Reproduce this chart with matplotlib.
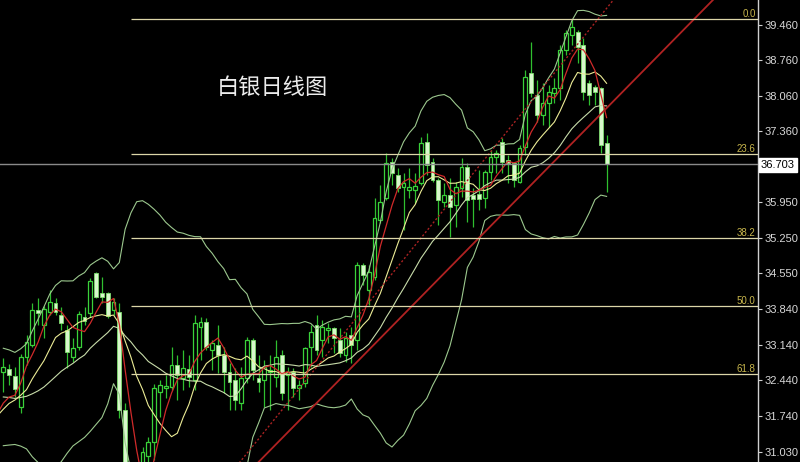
import matplotlib
matplotlib.use("Agg")
import matplotlib.pyplot as plt
import numpy as np
import pandas as pd

# silver daily candles, oldest first
opens = [32.61, 32.67, 32.53, 31.92, 32.90, 33.14, 33.83, 33.54, 33.79, 33.97,
         33.73, 33.44, 32.90, 33.10, 33.69, 33.77, 34.56, 34.17, 34.17, 33.83,
         33.79, 31.86, 29.60, 30.00, 29.95, 30.95, 31.23, 32.21, 32.29, 32.31,
         32.75, 32.49, 32.67, 32.45, 33.49, 33.59, 33.04, 33.14, 32.94, 32.61,
         32.45, 31.99, 32.49, 33.24, 32.49, 32.45, 32.61, 32.51, 32.94, 32.55,
         32.61, 32.29, 32.39, 33.10, 33.53, 33.24, 33.44, 33.48, 33.24, 32.94,
         33.34, 33.24, 34.72, 34.23, 34.48, 35.61, 36.04, 36.75, 36.49, 36.26,
         36.20, 36.20, 36.34, 37.14, 36.75, 36.40, 35.96, 36.10, 35.90, 36.24,
         36.65, 36.10, 36.12, 36.04, 36.55, 36.85, 37.14, 36.79, 36.73, 36.36,
         37.05, 38.50, 38.07, 37.68, 37.91, 38.11, 38.21, 38.96, 39.25, 39.31,
         39.06, 38.31, 38.23, 38.21, 37.12]
highs = [32.88, 32.77, 32.71, 32.96, 33.34, 33.97, 34.07, 33.91, 34.22, 34.07,
         33.89, 33.54, 33.28, 33.81, 33.89, 34.46, 34.58, 34.48, 34.19, 34.07,
         33.97, 32.00, 30.50, 30.55, 31.13, 31.33, 32.37, 32.45, 32.55, 33.10,
         32.94, 33.04, 32.94, 33.73, 33.69, 33.67, 33.24, 33.54, 33.10, 32.79,
         32.69, 32.71, 33.30, 33.28, 32.94, 32.84, 32.94, 33.24, 33.04, 32.71,
         32.69, 32.45, 33.10, 33.54, 33.73, 33.63, 33.57, 33.50, 33.48, 33.40,
         33.50, 34.78, 34.76, 34.72, 36.04, 36.30, 36.93, 36.83, 36.63, 36.53,
         36.63, 36.53, 37.24, 37.32, 36.83, 36.43, 36.34, 36.43, 36.36, 36.83,
         36.73, 36.24, 36.59, 36.59, 36.99, 36.99, 37.22, 36.89, 36.75, 37.09,
         38.56, 39.12, 38.37, 38.31, 38.27, 38.41, 39.06, 39.35, 39.57, 39.35,
         39.20, 38.37, 38.27, 38.23, 37.28]
lows = [32.21, 32.35, 32.12, 31.80, 32.75, 33.10, 33.54, 33.28, 33.73, 33.73,
        33.44, 32.69, 32.81, 33.04, 33.54, 33.69, 34.07, 33.97, 33.67, 33.73,
        31.70, 29.50, 28.25, 29.55, 29.70, 30.83, 30.87, 31.72, 32.10, 32.25,
        32.06, 32.25, 32.31, 32.25, 32.85, 33.04, 32.65, 32.59, 32.19, 31.86,
        31.86, 31.86, 32.39, 32.45, 32.21, 31.92, 31.86, 32.31, 32.06, 31.86,
        32.12, 32.06, 32.31, 32.71, 32.94, 32.90, 33.18, 32.98, 32.90, 32.81,
        32.79, 33.04, 34.32, 33.93, 34.42, 35.55, 36.00, 36.30, 36.16, 35.41,
        36.04, 35.94, 36.30, 36.49, 36.36, 35.51, 35.86, 35.27, 35.47, 36.06,
        35.57, 35.47, 35.80, 35.84, 36.40, 36.53, 36.53, 36.34, 36.26, 36.34,
        36.89, 38.03, 37.54, 37.48, 37.44, 37.91, 37.97, 38.86, 39.06, 38.70,
        37.97, 37.87, 37.87, 36.93, 36.16]
closes = [32.71, 32.55, 32.27, 32.90, 33.20, 33.83, 33.77, 33.85, 33.99, 33.79,
          33.57, 33.00, 33.08, 33.75, 33.61, 34.40, 34.09, 34.09, 33.71, 33.99,
          31.86, 29.60, 29.90, 29.95, 31.03, 31.23, 32.29, 32.35, 32.33, 32.75,
          32.55, 32.69, 32.51, 33.57, 33.59, 33.10, 33.18, 32.94, 32.61, 32.41,
          32.06, 32.49, 33.24, 32.65, 32.41, 32.71, 32.65, 32.90, 32.19, 32.61,
          32.29, 32.35, 33.08, 33.40, 33.04, 33.49, 33.48, 33.28, 32.98, 33.28,
          33.14, 34.72, 34.52, 34.58, 35.65, 35.96, 36.73, 36.53, 36.24, 36.34,
          36.26, 36.28, 37.12, 36.69, 36.40, 36.00, 36.10, 35.86, 36.26, 36.65,
          36.00, 36.02, 36.02, 36.55, 36.85, 36.93, 36.75, 36.73, 36.40, 37.03,
          38.43, 38.11, 37.68, 37.91, 38.13, 38.21, 38.96, 39.29, 39.41, 39.02,
          38.13, 38.07, 38.13, 37.09, 36.703]
# closes before the first visible candle, only used to start the averages
warmup_closes = [32.75, 32.65, 32.50, 32.75, 32.85, 32.60, 32.35, 31.95, 31.70, 31.45,
                 31.40, 31.60, 31.95, 32.10, 31.70, 31.95, 32.10, 31.70, 31.50]

fib_levels = [0.0, 23.6, 38.2, 50.0, 61.8]
fib_high = 39.57
fib_low = 28.25
fib_start = 22
last_price = 36.703
tick_prices = [39.460, 38.760, 38.060, 37.360, 35.950, 35.250, 34.550,
               33.840, 33.140, 32.440, 31.740, 31.030]

# hand drawn trend lines (bar index, price)
trend_solid_x = [30, 135]
trend_solid_y = [29.20, 41.42]
trend_dot_x = [35, 110]
trend_dot_y = [30.01, 40.63]

opens = np.array(opens)
highs = np.array(highs)
lows = np.array(lows)
closes = np.array(closes)
n = len(closes)
x = np.arange(n)

allc = pd.Series(warmup_closes + list(closes))
xa = np.arange(-len(warmup_closes), n)
ma5 = allc.rolling(5).mean()
ma10 = allc.rolling(10).mean()
ma20 = allc.rolling(20).mean()
sd20 = allc.rolling(20).std(ddof=0)
upper = ma20 + 2 * sd20
lower = ma20 - 2 * sd20

fig = plt.figure(figsize=(8, 4.62), dpi=100, facecolor='black')
ax = fig.add_axes([0, 0, 758 / 800, 1])
ax.set_facecolor('black')
ax.set_xlim(-0.57, 130.1)
ax.set_ylim(30.83, 39.945)

# candles
up = closes >= opens
ax.vlines(x, lows, highs, color='#2fbf2f', lw=0.9, zorder=2)
body_up = np.maximum(closes - opens, 0.03)
body_dn = np.maximum(opens - closes, 0.03)
ax.bar(x[up], body_up[up], bottom=opens[up], width=0.66,
       facecolor='black', edgecolor='#3ad23a', lw=0.9, zorder=3)
ax.bar(x[~up], body_dn[~up], bottom=closes[~up], width=0.66,
       facecolor='#d8f7cc', edgecolor='#7fdc6f', lw=0.6, zorder=3)

# bollinger + moving averages
ax.plot(xa, upper, color='#9cc88e', lw=0.8, zorder=4)
ax.plot(xa, lower, color='#9cc88e', lw=0.8, zorder=4)
ax.plot(xa, ma20, color='#c8dcaa', lw=0.8, zorder=4)
ax.plot(xa, ma10, color='#ecec96', lw=0.8, zorder=4)
ax.plot(xa, ma5, color='#d02a2a', lw=0.9, zorder=4)

ax.plot(trend_solid_x, trend_solid_y, color='#b02222', lw=1.3, zorder=4)
ax.plot(trend_dot_x, trend_dot_y, color='#a82222', lw=1.0, ls=(0, (1.5, 1.5)), zorder=4)

# fibonacci retracement
for lv in fib_levels:
    p = fib_high - (fib_high - fib_low) * lv / 100
    ax.hlines(p, fib_start, 130.1, color='#dcd6a8', lw=0.9, zorder=5)
    ax.text(0.997, p, f'{lv:.1f}', transform=ax.get_yaxis_transform(),
            ha='right', va='bottom', color='#c8b64c', fontsize=7,
            family='Liberation Sans', zorder=6)

ax.axhline(last_price, color='#8a8a8a', lw=1.0, zorder=5)

# right price scale
for s in ['top', 'left', 'bottom']:
    ax.spines[s].set_visible(False)
ax.spines['right'].set_color('#cfcfcf')
ax.spines['right'].set_linewidth(1.0)
ax.set_xticks([])
ax.yaxis.tick_right()
ax.set_yticks(tick_prices)
ax.set_yticklabels([f'{t:.3f}' for t in tick_prices])
ax.tick_params(axis='y', colors='#cfcfcf', length=3, width=0.8, pad=2,
               labelsize=8, labelcolor='#d8d8d8')
for lab in ax.get_yticklabels():
    lab.set_family('Liberation Sans')

fig.text(761 / 800, 1 - 165 / 462, f'{last_price:.3f}', ha='left', va='center',
         fontsize=8, family='Liberation Sans', color='black',
         bbox=dict(boxstyle='square,pad=0.15', facecolor='white', edgecolor='white'))

fig.text(217 / 800, 1 - 88 / 462, '白银日线图', ha='left', va='center',
         fontsize=16, color='#ececec', family=['Noto Sans CJK SC', 'DejaVu Sans'])

fig.savefig('out.png', dpi=100, facecolor='black')
